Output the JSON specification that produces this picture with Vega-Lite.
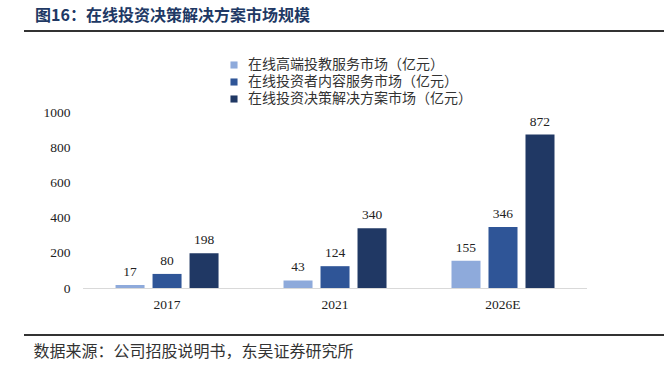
{
  "$schema": "https://vega.github.io/schema/vega-lite/v6.json",
  "width": 640,
  "height": 331,
  "autosize": {"type": "none"},
  "padding": {"left": 24, "top": 5, "right": 2, "bottom": 30},
  "background": "white",
  "config": {"view": {"stroke": null}, "font": "Noto Sans CJK SC"},
  "title": {"text": "图16：在线投资决策解决方案市场规模", "anchor": "start", "frame": "group", "dx": 11, "offset": -19, "fontSize": 16, "fontWeight": "bold", "color": "#203864", "font": "Noto Sans CJK SC"},
  "datasets": {
    "market": [
      {"year": "2017", "series": "在线高端投教服务市场（亿元）", "value": 17},
      {"year": "2017", "series": "在线投资者内容服务市场（亿元）", "value": 80},
      {"year": "2017", "series": "在线投资决策解决方案市场（亿元）", "value": 198},
      {"year": "2021", "series": "在线高端投教服务市场（亿元）", "value": 43},
      {"year": "2021", "series": "在线投资者内容服务市场（亿元）", "value": 124},
      {"year": "2021", "series": "在线投资决策解决方案市场（亿元）", "value": 340},
      {"year": "2026E", "series": "在线高端投教服务市场（亿元）", "value": 155},
      {"year": "2026E", "series": "在线投资者内容服务市场（亿元）", "value": 346},
      {"year": "2026E", "series": "在线投资决策解决方案市场（亿元）", "value": 872}
    ],
    "years": [{"year": "2017"}, {"year": "2021"}, {"year": "2026E"}],
    "lines": [{"pos": 1460}, {"pos": -267}]
  },
  "layer": [
    {
      "data": {"name": "years"},
      "mark": {"type": "bar", "color": "#d9d9d9"},
      "encoding": {
        "x": {"field": "year", "type": "nominal"},
        "y": {"datum": 0, "type": "quantitative"},
        "y2": {"datum": -6}
      }
    },
    {
      "data": {"name": "market"},
      "mark": {"type": "bar"},
      "encoding": {
        "x": {
          "field": "year", "type": "nominal",
          "scale": {"domain": ["2017", "2021", "2026E"], "paddingInner": 0, "paddingOuter": 0.405, "align": 0.434},
          "axis": {"domain": false, "ticks": false, "labels": false, "title": "数据来源：公司招股说明书，东吴证券研究所", "titleFont": "Noto Sans CJK SC", "titleFontSize": 16, "titleFontWeight": "normal", "titleColor": "#333333", "titleAnchor": "start", "titleAlign": "left", "titleX": 9, "titleY": 15, "titleBaseline": "middle"}
        },
        "xOffset": {
          "field": "series", "type": "nominal",
          "scale": {"domain": ["在线高端投教服务市场（亿元）", "在线投资者内容服务市场（亿元）", "在线投资决策解决方案市场（亿元）"], "paddingInner": 0.216, "paddingOuter": 0.878}
        },
        "y": {
          "field": "value", "type": "quantitative",
          "scale": {"domain": [-272.7, 1608], "nice": false, "zero": false},
          "axis": {"values": [0, 200, 400, 600, 800, 1000], "format": "d", "offset": -50, "domain": false, "ticks": false, "grid": false, "title": null, "labelPadding": 4, "labelFont": "Liberation Serif", "labelFontSize": 13.5, "labelColor": "#222222"}
        },
        "color": {
          "field": "series", "type": "nominal",
          "scale": {"domain": ["在线高端投教服务市场（亿元）", "在线投资者内容服务市场（亿元）", "在线投资决策解决方案市场（亿元）"], "range": ["#8eaadb", "#2f5597", "#203864"]},
          "legend": {"orient": "none", "legendX": 203, "legendY": 53, "title": null, "symbolType": "square", "symbolSize": 50, "symbolStrokeWidth": 0, "labelFont": "Noto Sans CJK SC", "labelFontSize": 14, "labelColor": "#333333", "labelLimit": 400, "rowPadding": 3, "labelOffset": 7}
        }
      }
    },
    {
      "data": {"name": "market"},
      "mark": {"type": "text", "font": "Liberation Serif", "fontSize": 13.5, "color": "#222222", "baseline": "alphabetic", "dy": -9},
      "encoding": {
        "x": {"field": "year", "type": "nominal"},
        "xOffset": {"field": "series", "type": "nominal"},
        "y": {"field": "value", "type": "quantitative"},
        "text": {"field": "value", "type": "quantitative"}
      }
    },
    {
      "data": {"name": "years"},
      "mark": {"type": "text", "font": "Liberation Serif", "fontSize": 13.5, "color": "#222222", "baseline": "middle", "dy": 17},
      "encoding": {
        "x": {"field": "year", "type": "nominal"},
        "y": {"datum": 0, "type": "quantitative"},
        "text": {"field": "year", "type": "nominal"}
      }
    },
    {
      "data": {"name": "lines"},
      "mark": {"type": "rule", "color": "#333333", "strokeWidth": 2},
      "encoding": {"y": {"field": "pos", "type": "quantitative"}}
    }
  ]
}
